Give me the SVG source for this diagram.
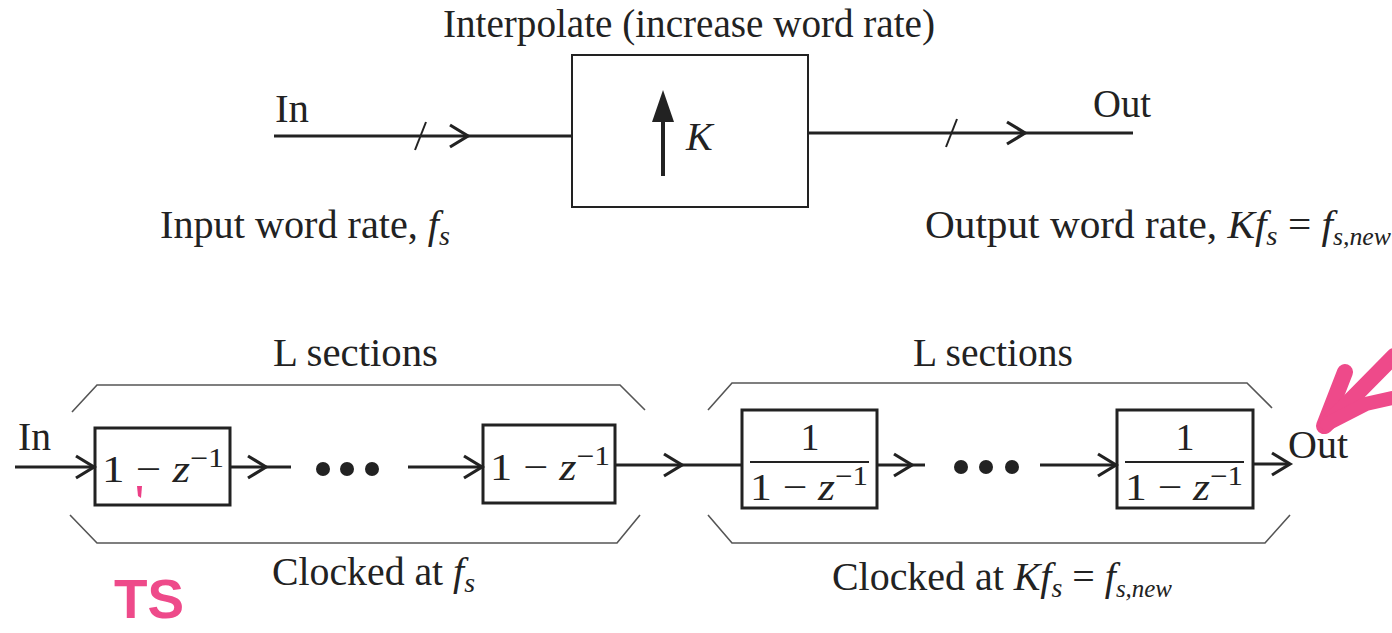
<svg xmlns="http://www.w3.org/2000/svg" width="1392" height="633" viewBox="0 0 1392 633">
<style>
text{font-family:"Liberation Serif","Times New Roman",serif;fill:#222;}
.t{font-size:40px;}
.m{font-size:38px;}
.i{font-style:italic;}
.ln{stroke:#222;stroke-width:3;fill:none;}
.br{stroke:#555;stroke-width:1.6;fill:none;}
.bx{stroke:#222;stroke-width:3;fill:#fff;}
.bx2{stroke:#222;stroke-width:2;fill:#fff;}
.pink{fill:#ec3f86;}
.pk{stroke:#ee4a8a;stroke-linecap:round;fill:none;}
</style>
<defs>
<marker id="chev" markerUnits="userSpaceOnUse" markerWidth="24" markerHeight="26" refX="20" refY="13" orient="auto" overflow="visible">
<path d="M2,2 L20,13 L2,24" fill="none" stroke="#222" stroke-width="3.2"/>
</marker>
</defs>

<text class="t" x="443" y="37" textLength="492" lengthAdjust="spacingAndGlyphs">Interpolate (increase word rate)</text>

<g id="interp">
<rect class="bx2" x="572" y="55" width="236" height="152"/>
<line x1="663" y1="176" x2="663" y2="100" stroke="#222" stroke-width="4"/>
<path d="M652,122 L663,90 L674,122 Z" fill="#222"/>
<text class="t i" x="686" y="150">K</text>
</g>

<g id="labels-top">
<text class="t" x="275" y="122" textLength="34" lengthAdjust="spacingAndGlyphs">In</text>
<text class="t" x="1093" y="117" textLength="58" lengthAdjust="spacingAndGlyphs">Out</text>
<text class="t" x="160" y="238" textLength="290" lengthAdjust="spacingAndGlyphs">Input word rate, <tspan class="i">f</tspan><tspan font-size="28" class="i" dy="7">s</tspan></text>
<text class="t" x="925" y="238" textLength="466" lengthAdjust="spacingAndGlyphs">Output word rate, <tspan class="i">Kf</tspan><tspan font-size="28" class="i" dy="7">s</tspan><tspan dy="-7"> = </tspan><tspan class="i">f</tspan><tspan font-size="25" class="i" dy="7">s,new</tspan></text>
</g>

<g id="brackets">
<path class="br" d="M72,412 L97,385 L620,385 L645,410"/>
<path class="br" d="M70,515 L97,543 L617,543 L640,515"/>
<path class="br" d="M708,410 L732,383 L1247,383 L1272,408"/>
<path class="br" d="M708,515 L732,543 L1265,543 L1290,515"/>
<text class="t" x="273" y="366" textLength="165" lengthAdjust="spacingAndGlyphs">L sections</text>
<text class="t" x="913" y="366" textLength="160" lengthAdjust="spacingAndGlyphs">L sections</text>
<text class="t" x="272" y="585" textLength="203" lengthAdjust="spacingAndGlyphs">Clocked at <tspan class="i">f</tspan><tspan font-size="28" class="i" dy="7">s</tspan></text>
<text class="t" x="832" y="590" textLength="340" lengthAdjust="spacingAndGlyphs">Clocked at <tspan class="i">Kf</tspan><tspan font-size="28" class="i" dy="7">s</tspan><tspan dy="-7"> = </tspan><tspan class="i">f</tspan><tspan font-size="25" class="i" dy="7">s,new</tspan></text>
</g>

<g id="box1">
<rect class="bx" x="95" y="428" width="135" height="77"/>
<text class="m" x="102" y="482" textLength="122" lengthAdjust="spacingAndGlyphs">1 − <tspan class="i">z</tspan><tspan font-size="27" dy="-15">−1</tspan></text>
</g>
<g id="box2">
<rect class="bx" x="483" y="425" width="132" height="78"/>
<text class="m" x="490" y="480" textLength="120" lengthAdjust="spacingAndGlyphs">1 − <tspan class="i">z</tspan><tspan font-size="27" dy="-15">−1</tspan></text>
</g>
<g id="box3">
<rect class="bx" x="742" y="410" width="135" height="98"/>
<text class="m" x="810" y="450" text-anchor="middle">1</text>
<line x1="750" y1="462" x2="869" y2="462" stroke="#222" stroke-width="2"/>
<text class="m" x="750" y="500" textLength="118" lengthAdjust="spacingAndGlyphs">1 − <tspan class="i">z</tspan><tspan font-size="27" dy="-15">−1</tspan></text>
</g>
<g id="box4">
<rect class="bx" x="1117" y="410" width="136" height="98"/>
<text class="m" x="1185" y="450" text-anchor="middle">1</text>
<line x1="1125" y1="462" x2="1244" y2="462" stroke="#222" stroke-width="2"/>
<text class="m" x="1125" y="500" textLength="118" lengthAdjust="spacingAndGlyphs">1 − <tspan class="i">z</tspan><tspan font-size="27" dy="-15">−1</tspan></text>
</g>

<g id="dots">
<circle cx="323" cy="469" r="7" fill="#222"/>
<circle cx="347" cy="469" r="7" fill="#222"/>
<circle cx="372" cy="469" r="7" fill="#222"/>
<circle cx="961" cy="467" r="7" fill="#222"/>
<circle cx="986" cy="467" r="7" fill="#222"/>
<circle cx="1012" cy="467" r="7" fill="#222"/>
</g>

<g id="labels-bottom">
<text class="t" x="18" y="450" textLength="33" lengthAdjust="spacingAndGlyphs">In</text>
<text class="t" x="1288" y="458" textLength="60" lengthAdjust="spacingAndGlyphs">Out</text>
</g>

<g id="connectors">
<line class="ln" x1="274" y1="136" x2="468" y2="136" marker-end="url(#chev)"/>
<line class="ln" x1="466" y1="136" x2="572" y2="136"/>
<line x1="415" y1="150" x2="426" y2="122" stroke="#222" stroke-width="2"/>
<line class="ln" x1="808" y1="133" x2="1025" y2="133" marker-end="url(#chev)"/>
<line class="ln" x1="1023" y1="133" x2="1133" y2="133"/>
<line x1="946" y1="147" x2="957" y2="119" stroke="#222" stroke-width="2"/>

<line class="ln" x1="15" y1="467" x2="94" y2="467" marker-end="url(#chev)"/>
<line class="ln" x1="230" y1="467" x2="266" y2="467" marker-end="url(#chev)"/>
<line class="ln" x1="264" y1="467" x2="291" y2="467"/>
<line class="ln" x1="408" y1="467" x2="482" y2="467" marker-end="url(#chev)"/>
<line class="ln" x1="615" y1="465" x2="682" y2="465" marker-end="url(#chev)"/>
<line class="ln" x1="680" y1="465" x2="742" y2="465"/>
<line class="ln" x1="877" y1="465" x2="912" y2="465" marker-end="url(#chev)"/>
<line class="ln" x1="910" y1="465" x2="925" y2="465"/>
<line class="ln" x1="1040" y1="465" x2="1116" y2="465" marker-end="url(#chev)"/>
<line class="ln" x1="1253" y1="464" x2="1290" y2="464" marker-end="url(#chev)"/>
</g>

<g id="annotations">
<path d="M137,486 L142,486 L141,498 L138,496 Z" class="pink"/>
<text x="114" y="618" style="font-family:'Liberation Sans',Arial,sans-serif;font-weight:bold;font-size:56px;fill:#ee4a8a" textLength="70" lengthAdjust="spacingAndGlyphs">TS</text>
<path class="pk" d="M1345,372 L1324,426" stroke-width="16"/>
<path class="pk" d="M1325,426 L1394,356" stroke-width="16"/>
<path class="pk" d="M1327,424 L1366,404 L1392,398" stroke-width="14"/>
</g>
</svg>
